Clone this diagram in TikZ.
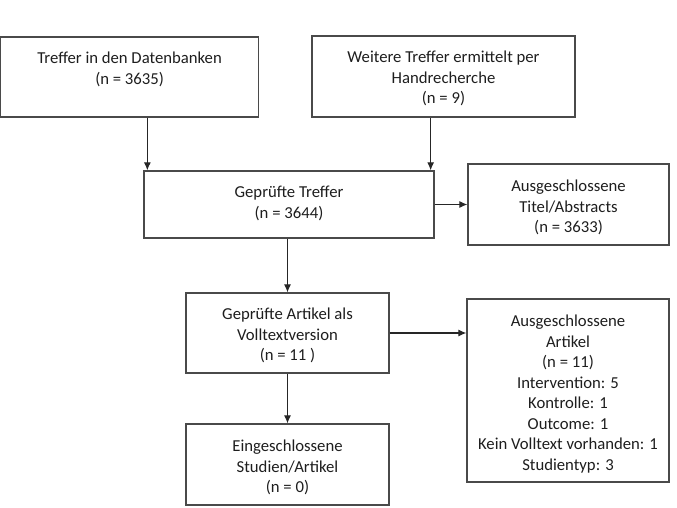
\documentclass[tikz,border=0pt]{standalone}
\usepackage{fontspec}
\setmainfont{Carlito}
\usetikzlibrary{arrows.meta,calc}
\definecolor{boxline}{HTML}{4A4A4A}
\definecolor{txtcol}{HTML}{1E1E1E}
\begin{document}
\begin{tikzpicture}[x=1pt,y=-1pt,
  box/.style={draw=boxline,line width=1.3pt,inner sep=0pt,fill=white},
  txt/.style={anchor=north,inner sep=0pt,align=center,text=txtcol,
    font=\fontsize{16.7}{20.5}\selectfont},
  arr/.style={draw=black!85,line width=1.1pt,-{Latex[length=8pt,width=7pt]}}]
\useasboundingbox (0,0) rectangle (677,507);
% boxes
\node[box,minimum width=258pt,minimum height=80pt] (b1) at (129.6,77) {};
\node[box,minimum width=263pt,minimum height=81pt] (b2) at (443.5,76.5) {};
\node[box,minimum width=290pt,minimum height=67pt] (b3) at (289,204.5) {};
\node[box,minimum width=201pt,minimum height=81pt] (t) at (568.5,204.5) {};
\node[box,minimum width=203pt,minimum height=80pt] (b4) at (287.5,333) {};
\node[box,minimum width=202pt,minimum height=183pt] (b6) at (568,390.5) {};
\node[box,minimum width=203pt,minimum height=81pt] (b5) at (287.5,464.5) {};
% texts
\node[txt] (b1t) at ($(b1.north)+(0,15.5)$) {Treffer in den Datenbanken\\(n = 3635)};
\node[txt] (b2t) at ($(b2.north)+(0,15.5)$) {Weitere Treffer ermittelt per\\Handrecherche\\(n = 9)};
\node[txt] (b3t) at ($(b3.north)+(0,15.5)$) {Geprüfte Treffer\\(n = 3644)};
\node[txt] (tt) at ($(t.north)+(0,16.5)$) {Ausgeschlossene\\Titel/Abstracts\\(n = 3633)};
\node[txt] (b4t) at ($(b4.north)+(0,15.5)$) {Geprüfte Artikel als\\Volltextversion\\(n = 11 )};
\node[txt] (b5t) at ($(b5.north)+(0,16.5)$) {Eingeschlossene\\Studien/Artikel\\(n = 0)};
\node[txt] (b6t) at ($(b6.north)+(0,16.5)$) {Ausgeschlossene\\Artikel\\(n = 11)\\Intervention: 5\\Kontrolle: 1\\Outcome: 1\\Kein Volltext vorhanden: 1\\Studientyp: 3};
% connectors
\draw[arr] ([xshift=4pt]b1.south -| b3.west) -- ([xshift=4pt]b3.north west);
\draw[arr] ([xshift=-4pt]b3.north east |- b2.south) -- ([xshift=-4pt]b3.north east);
\draw[arr] (b3.east) -- (t.west);
\draw[arr] (b4.north |- b3.south) -- (b4.north);
\draw[arr] (b4.east) -- (b4.east -| b6.west);
\draw[arr] (b4.south) -- (b5.north);
\end{tikzpicture}
\end{document}
